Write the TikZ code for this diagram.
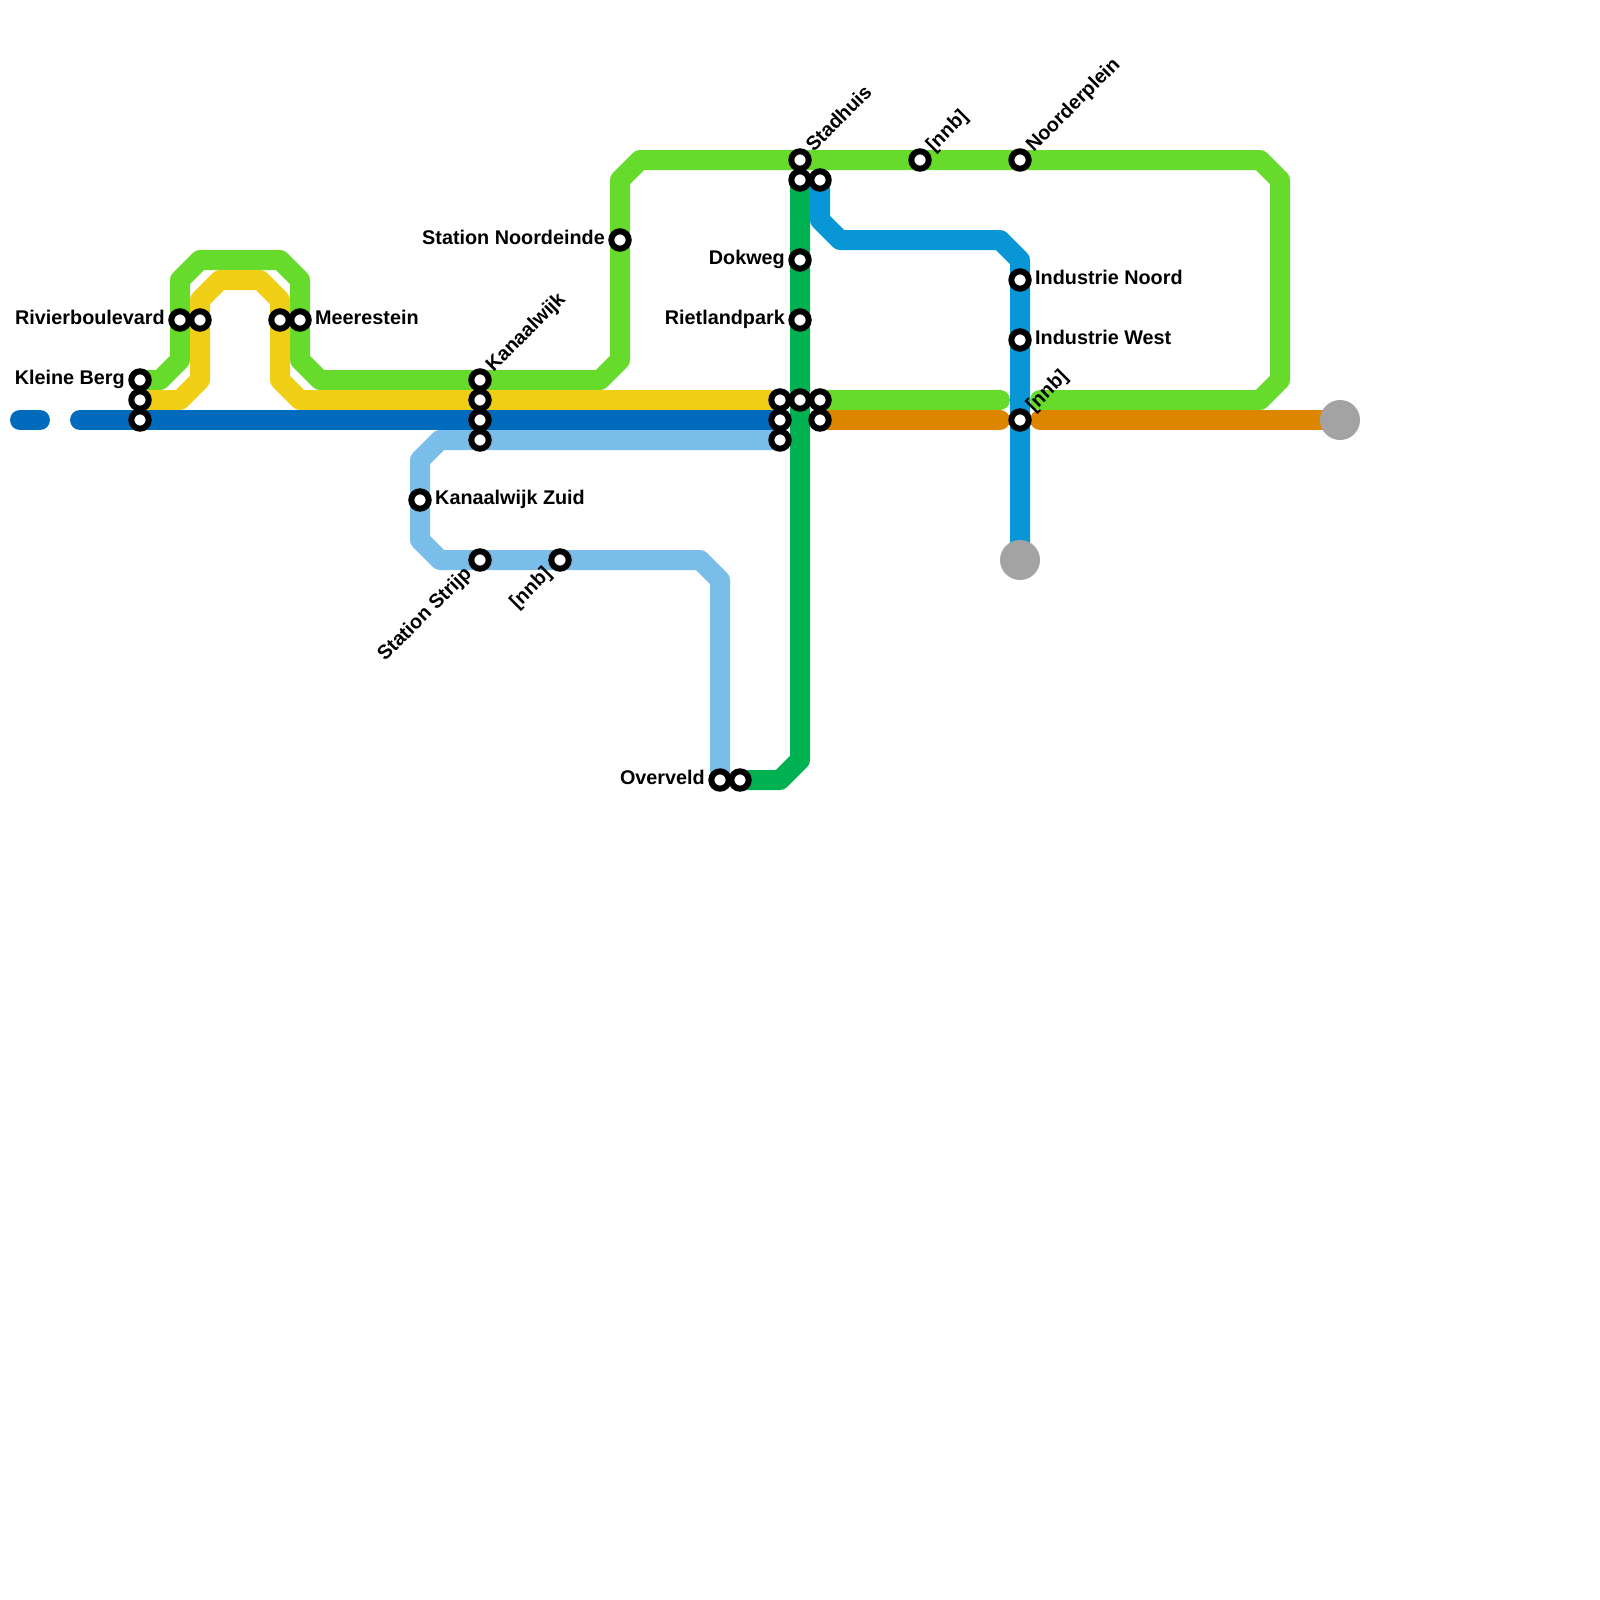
\documentclass[tikz,border=0pt]{standalone}
\usepackage{fontspec}
\setmainfont{Liberation Sans}
\usetikzlibrary{backgrounds}

\definecolor{lnGreen}{HTML}{66DB2C}
\definecolor{lnYellow}{HTML}{F0CE15}
\definecolor{lnBlue}{HTML}{006ABC}
\definecolor{lnCyan}{HTML}{0896D7}
\definecolor{lnSky}{HTML}{79BDE9}
\definecolor{lnForest}{HTML}{00B251}
\definecolor{lnOrange}{HTML}{DF8600}
\definecolor{lnGrey}{HTML}{A3A3A3}

\begin{document}
\begin{tikzpicture}[x=1pt, y=-1pt,
  metro/.style={line width=20pt, line cap=round, line join=round},
  halt/.style={circle, draw=black, fill=white, line width=6pt, minimum size=17.4pt, inner sep=0pt},
  terminus/.style={circle, fill=lnGrey, minimum size=40pt, inner sep=0pt},
  lbl/.style={font=\fontsize{19.8}{20}\selectfont\bfseries, inner sep=0pt, text=black}]

\useasboundingbox (0,0) rectangle (1600,1600);

% Stations, left part
\node[halt] (BergA) at (140,380) {};
\node[halt] (BergB) at (140,400) {};
\node[halt] (BergC) at (140,420) {};
\node[halt] (RivierA) at (180,320) {};
\node[halt] (RivierB) at (200,320) {};
\node[halt] (MeerA) at (280,320) {};
\node[halt] (MeerB) at (300,320) {};

% Kanaalwijk stack
\node[halt] (KanA) at (480,380) {};
\node[halt] (KanB) at (480,400) {};
\node[halt] (KanC) at (480,420) {};
\node[halt] (KanD) at (480,440) {};
\node[halt] (KanZuid) at (420,500) {};
\node[halt] (Strijp) at (480,560) {};
\node[halt] (NnbSouth) at (560,560) {};
\node[halt] (Noordeinde) at (620,240) {};
\node[halt] (OverA) at (720,780) {};
\node[halt] (OverB) at (740,780) {};

% Stadhuis and the central column
\node[halt] (StadA) at (800,160) {};
\node[halt] (StadB) at (800,180) {};
\node[halt] (StadC) at (820,180) {};
\node[halt] (Dokweg) at (800,260) {};
\node[halt] (Rietland) at (800,320) {};
\node[halt] (HubA) at (780,400) {};
\node[halt] (HubB) at (780,420) {};
\node[halt] (HubC) at (780,440) {};
\node[halt] (HubD) at (800,400) {};
\node[halt] (HubE) at (820,400) {};
\node[halt] (HubF) at (820,420) {};

% Stations, right part
\node[halt] (NnbNorth) at (920,160) {};
\node[halt] (Noorder) at (1020,160) {};
\node[halt] (IndNoord) at (1020,280) {};
\node[halt] (IndWest) at (1020,340) {};
\node[halt] (NnbEast) at (1020,420) {};

% Grey ends
\node[terminus] (EndSouth) at (1020,560) {};
\node[terminus] (EndEast) at (1340,420) {};

% Lines
\begin{pgfonlayer}{background}
\draw[metro, lnGreen] (BergA.center) -- (160,380) -- (180,360) -- (180,280) -- (200,260)
  -- (280,260) -- (300,280) -- (300,360) -- (320,380) -- (600,380) -- (620,360)
  -- (620,180) -- (640,160) -- (1260,160) -- (1280,180) -- (1280,380) -- (1260,400) -- (1040,400);
\draw[metro, lnGreen] (HubE.center) -- (1000,400);
\draw[metro, lnYellow] (BergB.center) -- (180,400) -- (200,380) -- (200,300) -- (220,280)
  -- (260,280) -- (280,300) -- (280,380) -- (300,400) -- (HubA.center);
\draw[metro, lnBlue] (20,420) -- (40,420);
\draw[metro, lnBlue] (80,420) -- (HubB.center);
\draw[metro, lnSky] (HubC.center) -- (440,440) -- (420,460) -- (420,540) -- (440,560)
  -- (700,560) -- (720,580) -- (OverA.center);
\draw[metro, lnForest] (OverB.center) -- (780,780) -- (800,760) -- (StadB.center);
\draw[metro, lnCyan] (StadC.center) -- (820,220) -- (840,240) -- (1000,240) -- (1020,260) -- (EndSouth.center);
\draw[metro, lnOrange] (HubF.center) -- (1000,420);
\draw[metro, lnOrange] (1040,420) -- (EndEast.center);
\end{pgfonlayer}

% Straight labels
\node[lbl, anchor=base east] (lbBerg) at (125,384.5) {Kleine Berg};
\node[lbl, anchor=base east] (lbRivier) at (165,324.5) {Rivierboulevard};
\node[lbl, anchor=base west] (lbMeer) at (315,324.5) {Meerestein};
\node[lbl, anchor=base west] (lbZuid) at (435,504.5) {Kanaalwijk Zuid};
\node[lbl, anchor=base east] (lbNoordeinde) at (605,244.5) {Station Noordeinde};
\node[lbl, anchor=base east] (lbOver) at (705,784.5) {Overveld};
\node[lbl, anchor=base east] (lbDok) at (785,264.5) {Dokweg};
\node[lbl, anchor=base east] (lbRiet) at (785,324.5) {Rietlandpark};
\node[lbl, anchor=base west] (lbIndN) at (1035,284.5) {Industrie Noord};
\node[lbl, anchor=base west] (lbIndW) at (1035,344.5) {Industrie West};

% Slanted labels
\node[lbl, rotate=45, anchor=base west] (lbKan) at (493.6,372.9) {Kanaalwijk};
\node[lbl, rotate=45, anchor=base west] (lbStad) at (813.6,152.9) {Stadhuis};
\node[lbl, rotate=45, anchor=base west] (lbNnbN) at (933.6,152.9) {[nnb]};
\node[lbl, rotate=45, anchor=base west] (lbNoorder) at (1033.6,152.9) {Noorderplein};
\node[lbl, rotate=45, anchor=base west] (lbNnbE) at (1033.6,412.9) {[nnb]};
\node[lbl, rotate=45, anchor=base east] (lbStrijp) at (472.5,574.6) {Station Strijp};
\node[lbl, rotate=45, anchor=base east] (lbNnbS) at (552.5,574.6) {[nnb]};

\end{tikzpicture}
\end{document}
